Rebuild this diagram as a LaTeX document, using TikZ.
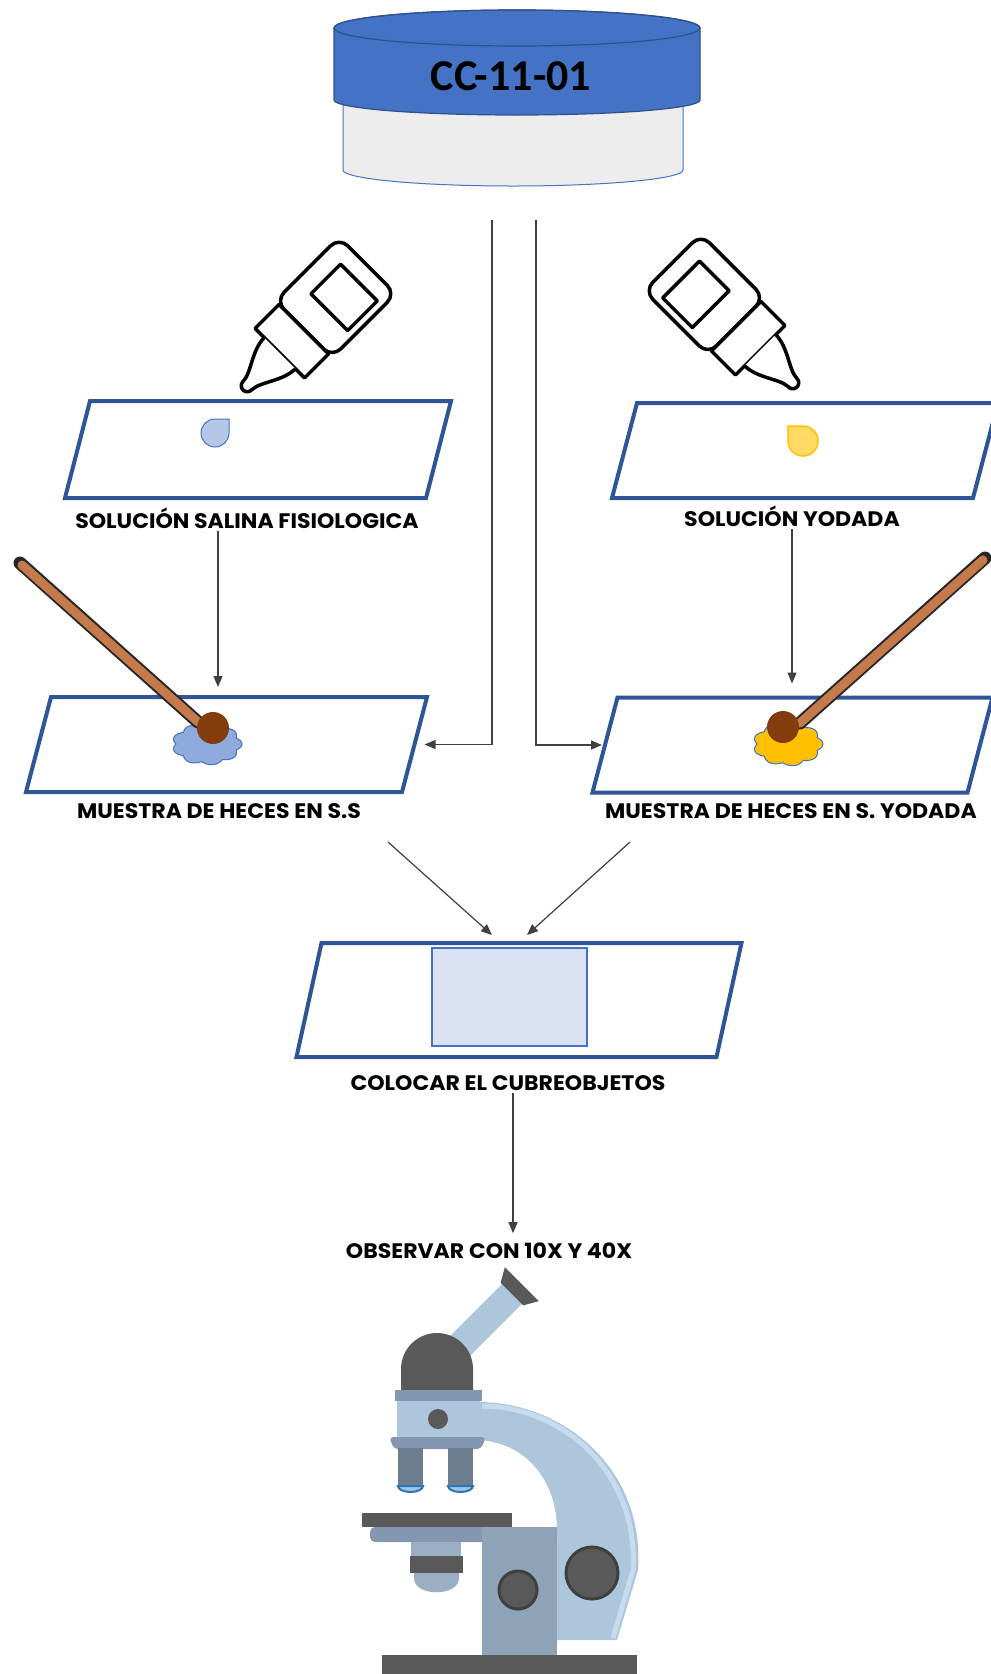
\documentclass[tikz,border=0pt]{standalone}
\usepackage{fontspec}
\usepackage{tikz}
\usetikzlibrary{arrows.meta,calc,positioning}
\newfontfamily\gothic{Poppins}[FakeStretch=1.05]
\newfontfamily\calibri{Carlito}

\definecolor{azulporta}{HTML}{2F5597}
\definecolor{azultapa}{HTML}{4472C4}
\definecolor{tapaborde}{HTML}{2F528F}
\definecolor{frasco}{HTML}{EDEDED}
\definecolor{cubre}{HTML}{DAE3F3}
\definecolor{salina}{HTML}{8FAADC}
\definecolor{gotasal}{HTML}{B4C7E7}
\definecolor{yodo}{HTML}{FFC000}
\definecolor{gotayodo}{HTML}{FFD966}
\definecolor{palo}{HTML}{C47A4A}
\definecolor{cafe}{HTML}{843C0C}
\definecolor{gris}{HTML}{595959}
\definecolor{grisoscuro}{HTML}{3F3F3F}
\definecolor{pizarra}{HTML}{8497B0}
\definecolor{pizarraclara}{HTML}{9AAFC4}
\definecolor{azulclaro}{HTML}{ADC6DC}
\definecolor{azulborde}{HTML}{C6DCEE}
\definecolor{objetivo}{HTML}{6D7D8F}
\definecolor{pilar}{HTML}{8EA3B7}
\definecolor{lente}{HTML}{9DC3E6}
\definecolor{lenteborde}{HTML}{2E75B6}

\newcommand{\portaobjetos}[5]{%
  \node[portabox, minimum width=#4pt, minimum height=#5pt] (#1) at (#2,#3) {};
  \draw[portaline] ($(#1.north west)+(12.5,0)$) -- ($(#1.north east)+(12.5,0)$)
    -- ($(#1.south east)+(-12.5,0)$) -- ($(#1.south west)+(-12.5,0)$) -- cycle;
}

\begin{document}
\begin{tikzpicture}[x=1pt, y=-1pt,
  portabox/.style={draw=none, inner sep=0pt, outer sep=0pt},
  portaline/.style={draw=azulporta, line width=4pt, fill=white},
  etiqueta/.style={font=\gothic\bfseries\fontsize{21}{25}\selectfont, text=black, anchor=base, inner sep=3pt},
  flecha/.style={draw=black!75, line width=1.2pt, -{Triangle[length=11pt,width=9pt]}},
  gotline/.style={draw=black, line width=3.5pt, line join=round, fill=white},
  palito/.style={line width=13pt, draw=black!85, line cap=round},
  pics/gotero/.style={code={
    \draw[gotline, rounded corners=12pt] (86,-40) rectangle (176,40);
    \draw[gotline] (116,{-20*#1}) rectangle (158,{32*#1});
    \draw[gotline] (52,-35) rectangle (86,35);
    \draw[gotline] (52,-22) .. controls (34,-22) and (18,-6) .. (6,-6)
      arc[start angle=-90, end angle=-270, radius=6]
      .. controls (18,6) and (34,22) .. (52,22);
  }}
]
\useasboundingbox (0,0) rectangle (991,1674);

\fill[white] (0,0) rectangle (991,1674);

\draw[draw=azultapa, fill=frasco, line width=1pt] (343,95) -- (343,170)
  arc[start angle=180, end angle=0, x radius=170, y radius=16] -- (683,95);
\draw[draw=tapaborde, fill=azultapa, line width=1.2pt] (334,28) -- (334,100)
  arc[start angle=180, end angle=0, x radius=183, y radius=15] -- (700,28)
  arc[start angle=0, end angle=-180, x radius=183, y radius=18] -- cycle;
\draw[draw=tapaborde, line width=1.2pt] (517,28) ellipse[x radius=183, y radius=18];
\node[font=\calibri\bfseries\fontsize{44}{48}\selectfont] (frasco) at (511,76) {CC-11-01};

\coordinate (bajaL) at (492,220);
\coordinate (bajaR) at (536,220);

\portaobjetos{sSal}{258}{449.5}{361}{97}
\portaobjetos{sYod}{805}{450.5}{361}{95}
\portaobjetos{sMSS}{226.5}{744.5}{376}{95}
\portaobjetos{sMY}{792.5}{745}{375}{95}
\portaobjetos{sCubre}{519}{1000}{420}{114}

\pic[rotate=45] at (243,390) {gotero=1};
\pic[rotate=135] at (797,387) {gotero=-1};

\draw[draw=azultapa, fill=gotasal, line width=1pt] (229,419) -- (215,419)
  arc[start angle=270, end angle=0, radius=14] -- cycle;
\draw[draw=yodo, fill=gotayodo, line width=1.5pt] (788,426) -- (803,426)
  arc[start angle=-90, end angle=180, radius=15] -- cycle;

\draw[draw=azultapa, fill=salina, line width=1pt] plot[smooth cycle, variable=\t, samples=72, domain=0:355]
  ({207+(31+4*abs(cos(4.5*\t)))*cos(\t)}, {744+(18+3*abs(cos(4.5*\t)))*sin(\t)});
\draw[palito] (20,563) -- (198,722);
\draw[palito, line width=9pt, draw=palo] (22,565) -- (198,722);
\fill[cafe] (213,728) circle[radius=16];

\draw[draw=azultapa, fill=yodo, line width=1pt] plot[smooth cycle, variable=\t, samples=72, domain=0:355]
  ({788+(31+4*abs(cos(4.5*\t)))*cos(\t)}, {744+(19+3*abs(cos(4.5*\t)))*sin(\t)});
\draw[palito] (985,558) -- (800,723);
\draw[palito, line width=9pt, draw=palo] (983,560) -- (800,723);
\fill[cafe] (783,727) circle[radius=16];

\draw[draw=azultapa, fill=cubre, line width=1.5pt] (432,948) rectangle (587,1046);

\node[etiqueta] (lblSalina) at (247,528) {SOLUCIÓN SALINA FISIOLOGICA};
\node[etiqueta] (lblYodada) at (792,526) {SOLUCIÓN YODADA};
\node[etiqueta] (lblMSS) at (219,818) {MUESTRA DE HECES EN S.S};
\node[etiqueta] (lblMY) at (791,818) {MUESTRA DE HECES EN S. YODADA};
\node[etiqueta] (lblCubre) at (508,1090) {COLOCAR EL CUBREOBJETOS};
\node[etiqueta] (lblObservar) at (489,1258) {OBSERVAR CON 10X Y 40X};

\draw[flecha, shorten >=10pt] ([xshift=-29pt]lblSalina.south) -- ([xshift=-29pt]lblSalina.south |- sMSS.north);
\draw[flecha, shorten >=14pt] (lblYodada.south) -- (lblYodada.south |- sMY.north);
\draw[flecha] (bajaL) |- ([xshift=10pt]sMSS.east);
\draw[flecha] (bajaR) |- ([xshift=-3pt]sMY.west);
\coordinate (desdeSS) at (388,842);
\coordinate (desdeY) at (630,842);
\draw[flecha] (desdeSS) -- ([xshift=-27pt,yshift=8pt]sCubre.north);
\draw[flecha] (desdeY) -- ([xshift=8pt,yshift=8pt]sCubre.north);
\draw[flecha, shorten >=6pt] ([xshift=5pt]lblCubre.south) -- ([xshift=5pt]lblCubre.south |- lblObservar.north);

\fill[azulclaro] (478,1402) .. controls (565,1402) and (645,1470) .. (638,1570) -- (617,1640)
  -- (557,1640) -- (557,1530) .. controls (557,1480) and (525,1442) .. (478,1440) -- cycle;
\draw[azulborde, line width=5pt] (482,1406) .. controls (562,1406) and (639,1472) .. (633,1570) -- (613,1638);
\begin{scope}[shift={(437,1369)}, rotate=45]
  \fill[azulclaro] (0,-14) rectangle (108,14);
  \fill[gris] (106,-16) -- (120,-24) -- (120,24) -- (106,16) -- cycle;
\end{scope}
\fill[gris] (401,1391) -- (401,1369) arc[start angle=180, end angle=360, radius=36] -- (473,1391) -- cycle;
\fill[pizarra] (395,1390) rectangle (482,1401);
\fill[azulclaro] (397,1401) rectangle (480,1437);
\fill[gris] (438,1419) circle[radius=10];
\fill[pizarra, rounded corners=4pt] (389,1437) -- (486,1437) -- (481,1449) -- (394,1449) -- cycle;
\fill[objetivo] (398,1448) rectangle (423,1486);
\fill[objetivo] (448,1448) rectangle (473,1486);
\filldraw[fill=lente, draw=lenteborde, line width=2pt] (398,1486) arc[start angle=180, end angle=0, x radius=12.5, y radius=6] -- cycle;
\filldraw[fill=lente, draw=lenteborde, line width=2pt] (448,1486) arc[start angle=180, end angle=0, x radius=12.5, y radius=6] -- cycle;
\fill[gris] (362,1513) rectangle (512,1527);
\fill[pizarra, rounded corners=5pt] (370,1527) rectangle (557,1542);
\fill[pilar] (482,1527) rectangle (557,1656);
\fill[pizarraclara] (411,1542) rectangle (461,1556);
\fill[gris] (410,1556) rectangle (463,1573);
\fill[pizarraclara] (414,1573) -- (414,1578) .. controls (414,1597) and (459,1597) .. (459,1578) -- (459,1573) -- cycle;
\filldraw[fill=gris, draw=grisoscuro, line width=3pt] (518,1590) circle[radius=19];
\filldraw[fill=gris, draw=grisoscuro, line width=3pt] (592,1573) circle[radius=26];
\fill[gris] (382,1655) rectangle (637,1680);
\end{tikzpicture}
\end{document}
